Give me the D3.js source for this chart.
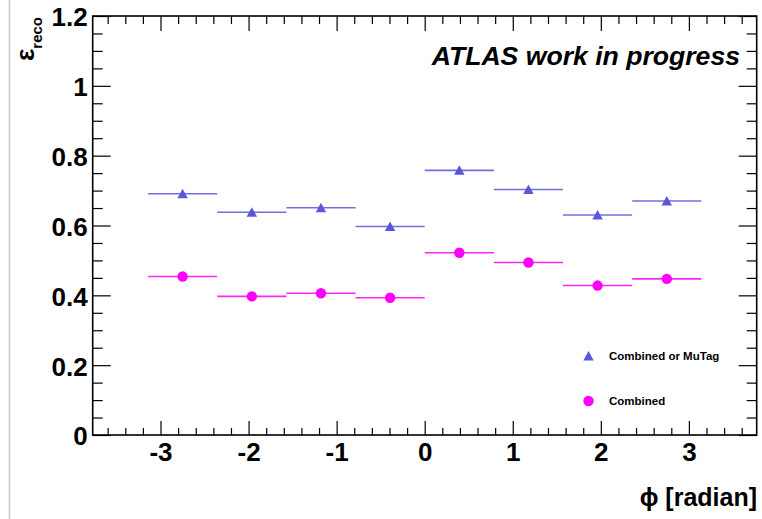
<!DOCTYPE html>
<html><head><meta charset="utf-8">
<script src="https://cdn.jsdelivr.net/npm/d3@7"></script>
<style>
html,body{margin:0;padding:0;background:#fff;}
svg{display:block;}
text{font-family:"Liberation Sans",Arial,Helvetica,sans-serif;}
</style></head>
<body>
<svg id="c" width="762" height="519"></svg>
<script>
// ---- data ----
const binCenters = [-2.749, -1.963, -1.178, -0.393, 0.393, 1.178, 1.963, 2.749];
const binHalfWidth = Math.PI / 8;
const effCombinedOrMuTag = [0.691, 0.638, 0.651, 0.597, 0.758, 0.703, 0.630, 0.670];
const effCombined = [0.454, 0.397, 0.406, 0.393, 0.522, 0.494, 0.428, 0.447];
const xMajorTicks = [-3, -2, -1, 0, 1, 2, 3];
const yMajorTicks = [0, 0.2, 0.4, 0.6, 0.8, 1, 1.2];
const legendLabels = ["Combined or MuTag", "Combined"];

const svg = d3.select("#c");
const L = 92.7, R = 756.7, T = 16, B = 435;
const x = d3.scaleLinear().domain([-3.77, 3.77]).range([L, R]);
const y = d3.scaleLinear().domain([0, 1.2]).range([B, T]);

const blue = "#5a55da", magenta = "#ff00ff";

// light gray page edge line
svg.append("line").attr("x1", 9.5).attr("x2", 9.5).attr("y1", 0).attr("y2", 519)
  .attr("stroke", "#c8c8c8").attr("stroke-width", 1.5);

const xMinor = d3.range(-36, 37, 2).map(d => d / 10).filter(v => !xMajorTicks.includes(Math.round(v*10)/10));
const yMinor = d3.range(0, 121, 5).map(d => d / 100).filter(v => !yMajorTicks.some(m => Math.abs(m - v) < 1e-9));

function styleAxis(g) {
  g.select(".domain").remove();
  g.selectAll("line").attr("stroke", "#000").attr("stroke-width", 1.2);
}
const fontTick = 'bold 26px "Liberation Sans", Arial, sans-serif';

// bottom
const gb = svg.append("g").attr("transform", `translate(0,${B})`);
gb.append("g").call(d3.axisBottom(x).tickValues(xMinor).tickSizeInner(-7).tickSizeOuter(0).tickFormat("")).call(styleAxis);
gb.append("g").call(d3.axisBottom(x).tickValues(xMajorTicks).tickSizeInner(-14).tickSizeOuter(0).tickPadding(8).tickFormat(d => String(d)))
  .call(styleAxis)
  .call(g => g.selectAll("text").attr("fill", "#000").style("font", fontTick));
// top
const gt = svg.append("g").attr("transform", `translate(0,${T})`);
gt.append("g").call(d3.axisTop(x).tickValues(xMinor).tickSizeInner(-8).tickSizeOuter(0).tickFormat("")).call(styleAxis);
gt.append("g").call(d3.axisTop(x).tickValues(xMajorTicks).tickSizeInner(-15).tickSizeOuter(0).tickFormat("")).call(styleAxis);
// left
const gl = svg.append("g").attr("transform", `translate(${L},0)`);
gl.append("g").call(d3.axisLeft(y).tickValues(yMinor).tickSizeInner(-10).tickSizeOuter(0).tickFormat("")).call(styleAxis);
gl.append("g").call(d3.axisLeft(y).tickValues(yMajorTicks).tickSizeInner(-18).tickSizeOuter(0).tickPadding(5).tickFormat(d => d === 0 || d === 1 ? String(d) : d3.format(".1f")(d)))
  .call(styleAxis)
  .call(g => g.selectAll("text").attr("fill", "#000").attr("dy", "0.38em").style("font", fontTick));
// right
const gr = svg.append("g").attr("transform", `translate(${R},0)`);
gr.append("g").call(d3.axisRight(y).tickValues(yMinor).tickSizeInner(-10).tickSizeOuter(0).tickFormat("")).call(styleAxis);
gr.append("g").call(d3.axisRight(y).tickValues(yMajorTicks).tickSizeInner(-18).tickSizeOuter(0).tickFormat("")).call(styleAxis);

// frame
svg.append("rect").attr("x", L).attr("y", T).attr("width", R - L).attr("height", B - T)
  .attr("fill", "none").attr("stroke", "#000").attr("stroke-width", 1.6);

// data series
const series = [
  {vals: effCombinedOrMuTag, color: blue, shape: "tri"},
  {vals: effCombined, color: magenta, shape: "circ"}
];
const triPath = "M0,-5 L5.2,4.5 L-5.2,4.5 Z";
series.forEach(s => {
  const g = svg.append("g");
  g.selectAll("line").data(s.vals).join("line")
    .attr("x1", (d, i) => x(binCenters[i] - binHalfWidth))
    .attr("x2", (d, i) => x(binCenters[i] + binHalfWidth))
    .attr("y1", d => y(d)).attr("y2", d => y(d))
    .attr("stroke", s.color).attr("stroke-width", 1.6).attr("opacity", 0.85);
  if (s.shape === "tri") {
    g.selectAll("path").data(s.vals).join("path")
      .attr("d", triPath)
      .attr("transform", (d, i) => `translate(${x(binCenters[i])},${y(d)})`)
      .attr("fill", s.color);
  } else {
    g.selectAll("circle").data(s.vals).join("circle")
      .attr("cx", (d, i) => x(binCenters[i])).attr("cy", d => y(d)).attr("r", 5.2)
      .attr("fill", s.color);
  }
});

// legend
const legY = [356, 401];
svg.append("path").attr("d", triPath).attr("transform", `translate(588.5,${legY[0]})`).attr("fill", blue);
svg.append("circle").attr("cx", 588.5).attr("cy", legY[1]).attr("r", 5.2).attr("fill", magenta);
legendLabels.forEach((t, i) => {
  svg.append("text").attr("x", 609).attr("y", legY[i]).attr("dy", "0.36em")
    .style("font", 'bold 11.5px "Liberation Sans", Arial, sans-serif')
    .attr("fill", "#000").text(t);
});

// ATLAS label
svg.append("text").attr("x", 740).attr("y", 65).attr("text-anchor", "end")
  .style("font", 'italic bold 26.6px "Liberation Sans", Arial, sans-serif')
  .attr("fill", "#000").text("ATLAS work in progress");

// x axis title
svg.append("text").attr("x", 757).attr("y", 506).attr("text-anchor", "end")
  .style("font", 'bold 25px "Liberation Sans", Arial, sans-serif')
  .attr("fill", "#000").text("ϕ [radian]");

// y axis title
const yt = svg.append("text").attr("transform", "translate(34,17) rotate(-90)")
  .attr("text-anchor", "end").attr("fill", "#000")
  .style("font", 'bold 26px "Liberation Sans", Arial, sans-serif');
yt.append("tspan").text("ε");
yt.append("tspan").attr("dy", 8).style("font-size", "15px").text("reco");
</script>
</body></html>
